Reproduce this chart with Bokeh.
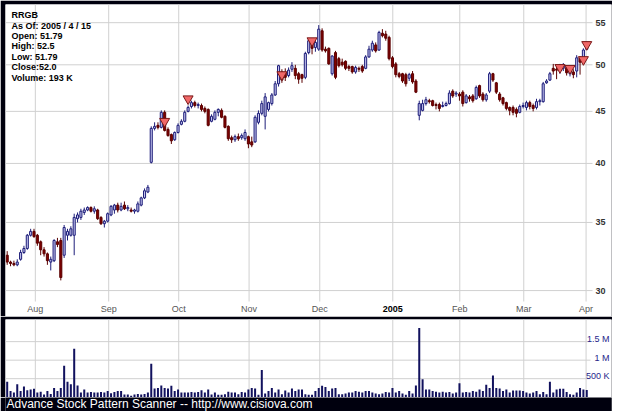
import math
from bokeh.plotting import figure
from bokeh.layouts import column
from bokeh.models import Range1d
from bokeh.core.properties import value
from bokeh.embed import file_html
from bokeh.resources import INLINE

# ---------------- data ----------------
symbol = "RRGB"
as_of = "2005 / 4 / 15"

opens = [32.5, 32.0, 31.9, 31.8, 32.2, 32.7, 33.0, 34.0, 34.3, 34.0,
         33.5, 32.9, 32.6, 32.0, 32.1, 33.5, 33.6, 32.5, 34.0, 34.0,
         34.0, 35.3, 35.4, 35.8, 36.0, 36.2, 35.9, 36.0, 35.4, 34.9,
         35.1, 35.6, 36.0, 36.4, 36.0, 36.4, 36.1, 36.0, 35.9, 35.9,
         36.4, 37.0, 37.5, 40.1, 43.3, 43.6, 43.4, 44.9, 43.2, 42.7,
         42.2, 42.9, 43.7, 44.0, 45.0, 45.5, 45.9, 45.6, 45.6, 45.3,
         45.2, 44.0, 44.2, 44.9, 45.1, 44.5, 43.5, 42.4, 42.2, 42.5,
         42.4, 42.3, 42.5, 42.0, 42.0, 43.9, 44.8, 44.5, 45.2, 45.8,
         46.7, 47.9, 49.2, 49.1, 48.8, 49.5, 49.6, 49.0, 48.9, 48.6,
         51.4, 52.6, 52.0, 51.8, 54.0, 51.8, 51.9, 49.0, 51.4, 50.7,
         50.3, 50.4, 49.8, 49.8, 49.2, 49.6, 49.8, 49.6, 50.9, 51.7,
         52.3, 51.7, 53.7, 53.6, 53.2, 50.8, 50.1, 49.0, 49.0, 48.9,
         48.5, 49.0, 48.2, 44.6, 45.1, 45.8, 46.1, 46.1, 45.7, 45.7,
         45.5, 45.6, 45.8, 47.1, 46.8, 46.8, 47.0, 45.9, 46.5, 46.6,
         46.3, 47.7, 46.8, 46.2, 47.1, 49.0, 48.0, 46.8, 46.4, 45.9,
         45.4, 45.4, 45.2, 44.9, 45.5, 45.4, 45.9, 45.6, 45.4, 46.0,
         46.0, 48.0, 48.3, 49.6, 49.5, 49.5, 49.6, 49.7, 49.0, 49.2,
         49.3, 50.8, 50.5, 51.79]
highs = [32.8, 32.1, 32.1, 32.2, 32.9, 33.2, 34.1, 34.5, 34.5, 34.1,
         33.6, 33.1, 32.7, 32.4, 33.7, 33.8, 33.8, 34.8, 34.5, 34.7,
         35.7, 35.8, 36.1, 36.2, 36.3, 36.3, 36.3, 36.1, 35.5, 35.2,
         35.8, 36.4, 36.5, 36.6, 36.6, 36.7, 36.4, 36.2, 36.1, 36.7,
         37.1, 37.8, 38.1, 43.5, 43.9, 43.9, 45.1, 45.1, 43.4, 42.8,
         43.0, 43.8, 44.2, 45.1, 45.6, 46.1, 46.1, 45.9, 45.8, 45.5,
         45.3, 44.7, 45.1, 45.3, 45.3, 44.6, 43.6, 42.6, 42.7, 42.8,
         42.8, 43.2, 42.6, 42.5, 44.6, 45.1, 46.1, 46.9, 46.0, 46.9,
         48.2, 50.0, 49.5, 49.6, 49.7, 50.3, 50.0, 49.2, 49.0, 51.5,
         53.0, 52.9, 52.9, 54.7, 54.3, 52.1, 52.0, 51.1, 51.6, 50.9,
         50.7, 50.5, 50.0, 49.9, 49.9, 49.8, 50.0, 51.1, 52.2, 52.8,
         52.6, 54.0, 54.2, 54.0, 53.4, 51.0, 50.3, 49.2, 49.1, 49.1,
         49.1, 49.3, 48.4, 46.1, 46.2, 46.5, 46.3, 46.2, 45.9, 45.9,
         46.0, 46.0, 47.2, 47.3, 47.1, 47.0, 47.2, 46.8, 46.7, 46.8,
         47.7, 47.8, 47.0, 46.9, 49.2, 49.1, 48.1, 47.0, 46.5, 46.0,
         45.5, 45.6, 45.4, 45.7, 45.9, 46.1, 46.1, 45.8, 46.3, 46.3,
         48.1, 48.4, 49.2, 50.1, 50.0, 50.1, 50.2, 49.9, 49.8, 49.5,
         51.1, 51.0, 51.9, 52.5]
lows = [31.8, 31.7, 31.7, 31.7, 32.1, 32.6, 32.9, 33.9, 33.8, 33.2,
        32.5, 32.4, 31.8, 31.4, 32.0, 33.1, 30.7, 32.3, 33.6, 33.9,
        32.5, 35.0, 35.2, 35.6, 35.9, 35.8, 35.7, 35.2, 34.8, 34.6,
        35.0, 35.5, 35.7, 35.8, 35.9, 36.0, 35.9, 35.8, 35.7, 35.8,
        36.3, 36.9, 37.4, 40.0, 43.1, 43.2, 43.3, 43.0, 42.5, 41.8,
        42.1, 42.8, 43.6, 43.9, 44.9, 45.3, 45.4, 45.3, 45.0, 44.8,
        43.5, 43.9, 44.1, 44.5, 44.3, 43.3, 42.1, 41.9, 42.0, 42.1,
        42.2, 42.1, 41.4, 41.5, 41.9, 43.7, 44.6, 43.2, 45.0, 45.6,
        46.6, 47.6, 48.0, 48.2, 48.6, 49.2, 48.4, 47.9, 48.0, 48.4,
        51.2, 51.2, 51.5, 51.6, 51.5, 51.4, 50.0, 48.8, 48.4, 49.7,
        49.8, 49.4, 49.3, 49.0, 49.0, 49.2, 49.1, 49.5, 50.8, 51.5,
        51.4, 51.6, 53.2, 52.8, 50.5, 49.6, 48.6, 48.5, 48.0, 47.6,
        48.2, 47.9, 46.9, 44.1, 45.0, 45.6, 45.8, 45.5, 45.2, 45.0,
        45.4, 45.5, 45.7, 46.4, 46.5, 46.1, 45.5, 45.8, 46.0, 45.9,
        46.2, 46.4, 46.0, 46.0, 46.9, 48.1, 46.8, 46.0, 45.6, 45.1,
        44.6, 44.6, 44.4, 44.8, 45.3, 45.1, 45.2, 45.0, 45.2, 45.6,
        45.9, 47.9, 48.2, 48.9, 48.4, 49.0, 49.3, 48.8, 48.7, 48.5,
        48.6, 48.9, 50.3, 51.79]
closes = [32.0, 31.9, 31.8, 32.0, 32.7, 33.0, 34.0, 34.3, 33.9, 33.4,
          32.9, 32.6, 32.1, 32.2, 33.6, 33.3, 30.9, 34.6, 34.3, 34.5,
          35.4, 35.6, 35.9, 36.0, 36.2, 35.9, 36.1, 35.3, 34.9, 35.1,
          35.7, 36.3, 36.4, 36.0, 36.3, 36.1, 36.2, 35.9, 36.0, 36.5,
          37.0, 37.6, 37.9, 43.3, 43.5, 43.4, 44.9, 43.1, 42.6, 42.1,
          42.9, 43.6, 44.0, 44.9, 45.4, 45.9, 45.6, 45.7, 45.2, 45.0,
          43.6, 44.5, 44.9, 45.2, 44.4, 43.4, 42.3, 42.2, 42.5, 42.3,
          42.6, 42.9, 41.8, 41.7, 44.4, 44.8, 45.8, 46.5, 45.9, 46.7,
          47.9, 49.9, 48.3, 48.6, 49.4, 49.9, 48.8, 48.4, 48.5, 51.3,
          52.8, 51.9, 52.6, 54.2, 51.7, 51.6, 50.1, 51.0, 48.6, 49.9,
          50.0, 49.6, 49.6, 49.2, 49.7, 49.5, 49.3, 50.9, 51.8, 52.5,
          51.6, 53.8, 53.4, 53.1, 50.7, 49.8, 48.9, 48.7, 48.2, 47.9,
          48.9, 48.1, 47.0, 45.8, 45.8, 46.2, 46.0, 45.6, 45.6, 45.3,
          45.6, 45.8, 46.9, 46.6, 46.9, 46.6, 45.8, 46.6, 46.3, 46.1,
          47.5, 46.6, 46.2, 46.7, 49.0, 48.3, 47.0, 46.2, 45.8, 45.3,
          45.1, 44.9, 44.8, 45.5, 45.6, 45.9, 45.5, 45.3, 46.0, 46.1,
          47.9, 48.2, 49.0, 49.3, 49.4, 49.8, 49.9, 49.1, 49.4, 48.9,
          50.8, 50.3, 51.7, 52.0]
volumes_k = [417, 167, 125, 350, 167, 290, 190, 210, 225, 125,
             150, 70, 167, 85, 250, 167, 250, 850, 417, 350,
             1310, 317, 125, 210, 125, 140, 125, 125, 140, 125,
             167, 110, 140, 167, 167, 70, 70, 40, 70, 85,
             70, 85, 125, 900, 233, 250, 317, 250, 233, 308,
             167, 210, 125, 125, 125, 140, 125, 142, 190, 125,
             210, 70, 125, 67, 67, 83, 150, 125, 125, 83,
             142, 125, 210, 250, 233, 67, 733, 100, 167, 250,
             125, 210, 83, 183, 125, 233, 167, 208, 208, 83,
             67, 67, 167, 250, 308, 275, 167, 233, 250, 83,
             83, 100, 125, 125, 167, 150, 125, 167, 167, 125,
             100, 83, 100, 142, 125, 250, 125, 167, 100, 67,
             167, 100, 317, 1870, 483, 208, 208, 167, 150, 125,
             150, 125, 142, 100, 125, 375, 125, 142, 125, 167,
             150, 208, 167, 333, 250, 583, 250, 233, 167, 208,
             125, 183, 183, 183, 167, 125, 100, 125, 167, 83,
             142, 83, 417, 125, 208, 225, 225, 142, 83, 67,
             125, 250, 208, 193]

month_pos = [8.4, 30.3, 51.2, 72.2, 93.3, 115.1, 135.1, 154.2, 172.8]
month_labels = ["Aug", "Sep", "Oct", "Nov", "Dec", "2005", "Feb", "Mar", "Apr"]
price_ticks = [30, 35, 40, 45, 50, 55]
vol_ticks = [500000, 1000000, 1500000]
vol_tick_labels = ["500 K", "1 M", "1.5 M"]
signal_idx = [47, 54, 82, 91, 165, 168, 172, 173]
signal_price = [44.0, 46.3, 48.9, 52.8, 49.7, 49.6, 50.6, 52.35]
footer = "Advance Stock Pattern Scanner -- http://www.cisiova.com"

# ---------------- geometry helpers (picture pixel -> data) ----------------
BG = "#00000e"
FONT = value("Liberation Sans")
FRAME_LEFT = 5.0
FRAME_W = 606
PX_BAR = 3.35
X0 = (FRAME_LEFT - 6.7) / PX_BAR
X1 = X0 + FRAME_W / PX_BAR


def xi(px):
    return X0 + (px - FRAME_LEFT) / PX_BAR


def pr(py):
    return 50.0 * math.exp((64.3 - py) / 442.0)


VZERO = 396.7
VSCALE = 27000.0


def vv(py):
    return (VZERO - py) * VSCALE


n = len(closes)
idx = list(range(n))
up = [c >= o for o, c in zip(opens, closes)]

# ---------------- price panel ----------------
p1 = figure(width=612, height=316, x_range=Range1d(X0, X1),
            y_range=Range1d(pr(316), pr(4)), y_axis_type="log",
            x_axis_location=None, y_axis_location=None,
            toolbar_location=None, output_backend="svg",
            min_border_left=5, min_border_right=1, min_border_top=4,
            min_border_bottom=0, border_fill_color=BG,
            background_fill_color="white", outline_line_color=None)
p1.grid.visible = False

grid_col = "#d0d0d0"
p1.segment(x0=[X0] * len(price_ticks), x1=[xi(592)] * len(price_ticks),
           y0=price_ticks, y1=price_ticks, line_color=grid_col, line_width=1)
p1.segment(x0=month_pos, x1=month_pos, y0=[pr(301)] * len(month_pos),
           y1=[pr(2)] * len(month_pos), line_color=grid_col, line_width=1)

up_i = [i for i in idx if up[i]]
dn_i = [i for i in idx if not up[i]]
p1.segment(x0=up_i, x1=up_i, y0=[lows[i] for i in up_i], y1=[highs[i] for i in up_i],
           line_color="#1e1e7a", line_width=1)
p1.segment(x0=dn_i, x1=dn_i, y0=[lows[i] for i in dn_i], y1=[highs[i] for i in dn_i],
           line_color="#5a0000", line_width=1)
p1.vbar(x=up_i, width=0.62, top=[closes[i] for i in up_i], bottom=[opens[i] for i in up_i],
        fill_color="#c4c4ee", line_color="#1e1e7a", line_width=1)
p1.vbar(x=dn_i, width=0.62, top=[opens[i] for i in dn_i], bottom=[closes[i] for i in dn_i],
        fill_color="#800000", line_color="#5a0000", line_width=1)

p1.scatter(x=signal_idx, y=signal_price, marker="inverted_triangle", size=10,
           fill_color="#f06868", line_color="#7a1818", line_width=1)

# month labels
norm_m = [(m, l) for m, l in zip(month_pos, month_labels) if l != "2005"]
bold_m = [(m, l) for m, l in zip(month_pos, month_labels) if l == "2005"]
p1.text(x=[m for m, _ in norm_m], y=[pr(308.5)] * len(norm_m), text=[l for _, l in norm_m],
        text_align="center", text_baseline="middle", text_font=FONT,
        text_font_size="9px", text_color="#555555")
p1.text(x=[m for m, _ in bold_m], y=[pr(308.5)] * len(bold_m), text=[l for _, l in bold_m],
        text_align="center", text_baseline="middle", text_font=FONT,
        text_font_size="9px", text_font_style="bold", text_color="#000000")

# price labels (right)
p1.text(x=[xi(595)] * len(price_ticks), y=price_ticks, text=[str(t) for t in price_ticks],
        text_align="left", text_baseline="middle", text_font=FONT,
        text_font_size="9px", text_font_style="bold", text_color="#333333")

# info block
info = [symbol,
        "As Of: " + as_of,
        "Open: " + str(opens[-1]),
        "High: " + str(highs[-1]),
        "Low: " + str(lows[-1]),
        "Close:" + str(closes[-1]),
        "Volume: " + str(volumes_k[-1]) + " K"]
p1.text(x=[xi(11)] * len(info), y=[pr(14.7 + k * 10.4) for k in range(len(info))],
        text=info, text_align="left", text_baseline="middle", text_font=FONT,
        text_font_size="9px", text_font_style="bold", text_color="#000000")

# ---------------- volume panel ----------------
p2 = figure(width=612, height=81, x_range=p1.x_range,
            y_range=Range1d(vv(397), vv(319)),
            x_axis_location=None, y_axis_location=None,
            toolbar_location=None, output_backend="svg",
            min_border_left=5, min_border_right=1, min_border_top=3,
            min_border_bottom=0, border_fill_color=BG,
            background_fill_color="white", outline_line_color=None)
p2.grid.visible = False
p2.segment(x0=[X0] * len(vol_ticks), x1=[xi(590)] * len(vol_ticks),
           y0=vol_ticks, y1=vol_ticks, line_color=grid_col, line_width=1)
p2.segment(x0=month_pos, x1=month_pos, y0=[vv(400)] * len(month_pos),
           y1=[vv(316)] * len(month_pos), line_color=grid_col, line_width=1)
p2.vbar(x=idx, width=0.6, top=[v * 1000 for v in volumes_k], bottom=0,
        fill_color="#12125e", line_color=None)
p2.text(x=[xi(609)] * len(vol_ticks), y=[t + 2.4 * VSCALE for t in vol_ticks],
        text=vol_tick_labels, text_align="right", text_baseline="middle", text_font=FONT,
        text_font_size="9px", text_color="#26268a")

# ---------------- footer ----------------
p3 = figure(width=612, height=14, x_range=Range1d(0, 612), y_range=Range1d(0, 14),
            x_axis_location=None, y_axis_location=None,
            toolbar_location=None, output_backend="svg",
            min_border_left=0, min_border_right=0, min_border_top=0,
            min_border_bottom=0, border_fill_color=BG,
            background_fill_color=BG, outline_line_color=None)
p3.grid.visible = False
p3.text(x=[1], y=[7.5], text=[footer], text_align="left", text_baseline="middle",
        text_font=FONT, text_font_size="12px", text_color="#ffffff")

layout = column(p1, p2, p3, spacing=0)
open("out.html", "w").write(file_html(layout, INLINE))
